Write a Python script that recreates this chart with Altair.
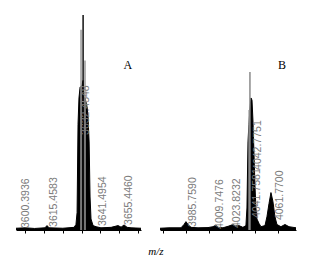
import altair as alt
import pandas as pd

# ---------------- Panel A data ----------------
a_mz = [3595.1, 3600.0, 3605.0, 3610.5, 3611.6, 3612.7, 3620.0, 3626.0, 3627.0, 3627.6,
        3628.1, 3628.6, 3629.2, 3629.7, 3630.2, 3630.8, 3631.3, 3631.8, 3632.4, 3632.9,
        3633.4, 3634.0, 3634.5, 3635.0, 3636.1, 3637.7, 3640.3, 3645.7, 3649.4, 3651.0,
        3652.6, 3654.2, 3656.3, 3661.6]
a_int = [0.8, 1.0, 0.7, 1.0, 2.0, 1.0, 0.8, 1.2, 2.5, 8,
         48, 60, 65, 65, 66, 68, 60, 60, 58, 56,
         52, 40, 15, 5, 2, 1.5, 1.0, 1.2, 2.0, 1.3,
         2.3, 1.2, 1.0, 0.8]
a_spike_mz = [3629.7, 3630.8, 3631.8]
a_spike_int = [91, 97.7, 77]
a_spike_col = ["#9a9a9a", "#111111", "#9a9a9a"]
a_label_mz = [3600.3936, 3615.4583, 3632.4548, 3641.4954, 3655.4460]
a_label_txt = ["3600.3936", "3615.4583", "3632.4548", "3641.4954", "3655.4460"]
a_label_y = [0.9, 1.4, 43.2, 1.8, 2.3]
a_domain = [3595.1, 3661.6]

# ---------------- Panel B data ----------------
b_mz = [3957.2, 3965.0, 3975.5, 3978.1, 3979.8, 3981.6, 3984.2, 3990.3, 3999.0, 4003.3,
        4005.9, 4008.0, 4012.0, 4017.2, 4020.7, 4023.0, 4025.9, 4029.4, 4032.0, 4032.9,
        4033.8, 4034.6, 4035.5, 4036.4, 4037.3, 4038.1, 4039.0, 4039.9, 4040.7, 4041.6,
        4043.4, 4045.1, 4048.6, 4050.3, 4052.1, 4053.8, 4055.5, 4057.3, 4059.0, 4062.5,
        4066.0, 4069.5, 4075.6]
b_int = [0.8, 1.0, 1.0, 2.5, 3.8, 2.5, 1.2, 1.0, 1.1, 1.5,
         2.2, 1.2, 1.0, 1.8, 2.5, 1.8, 2.0, 1.2, 2.0, 10,
         40, 48, 55, 60, 59, 50, 35, 20, 10, 5,
         3, 1.5, 2.0, 6, 12, 17, 13, 6, 2.5, 1.5,
         2.5, 1.5, 1.0]
b_spike_mz = [4034.8, 4035.5]
b_spike_int = [54.5, 71.8]
b_spike_col = ["#9a9a9a", "#8a8a8a"]
b_label_mz = [3985.7590, 4009.7476, 4023.8232, 4041.7581, 4042.7751, 4061.7700]
b_label_txt = ["3985.7590", "4009.7476", "4023.8232", "4041.7581", "4042.7751", "4061.7700"]
b_label_y = [1.4, 0.5, 0.9, 5.5, 27.3, 4.5]
b_domain = [3957.2, 4075.6]

letters = ["A", "B"]
letter_mz = [3654.6, 4063.5]
letter_y = [75, 75]


def panel(mz, inten, smz, sint, scol, lmz, ltxt, ly, domain, letter, lx, lyv, width):
    xs = alt.Scale(domain=domain, nice=False, zero=False)
    ys = alt.Scale(domain=[0, 98.6], nice=False)
    xaxis = alt.Axis(labels=False, title=None, grid=False, ticks=True, tickSize=3,
                     tickColor="#000", domainColor="#000", domainWidth=1.2, tickCount=6)
    prof = pd.DataFrame({"mz": mz, "I": inten})
    spk = pd.DataFrame({"mz": smz, "I": sint, "c": scol, "z": [0] * len(smz)})
    lab = pd.DataFrame({"mz": lmz, "t": ltxt, "y": ly})
    let = pd.DataFrame({"mz": [lx], "y": [lyv], "t": [letter]})

    area = alt.Chart(prof).mark_area(color="#000", opacity=1,
                                     line={"color": "#000", "strokeWidth": 1},
                                     interpolate="linear").encode(
        x=alt.X("mz:Q", scale=xs, axis=xaxis),
        y=alt.Y("I:Q", scale=ys, axis=None),
    )
    rules = alt.Chart(spk).mark_rule(strokeWidth=1.5).encode(
        x=alt.X("mz:Q", scale=xs),
        y=alt.Y("I:Q", scale=ys),
        y2="z:Q",
        color=alt.Color("c:N", scale=None, legend=None),
    )
    texts = alt.Chart(lab).mark_text(angle=270, align="left", baseline="middle",
                                     font="Liberation Sans", fontSize=10.5,
                                     color="#7a7a7a").encode(
        x=alt.X("mz:Q", scale=xs),
        y=alt.Y("y:Q", scale=ys),
        text="t:N",
    )
    lt = alt.Chart(let).mark_text(font="Liberation Serif", fontSize=12,
                                  color="#000").encode(
        x=alt.X("mz:Q", scale=xs),
        y=alt.Y("y:Q", scale=ys),
        text="t:N",
    )
    return alt.layer(area, rules, texts, lt).properties(width=width, height=217)


pa = panel(a_mz, a_int, a_spike_mz, a_spike_int, a_spike_col, a_label_mz, a_label_txt,
           a_label_y, a_domain, letters[0], letter_mz[0], letter_y[0], 125)
pb = panel(b_mz, b_int, b_spike_mz, b_spike_int, b_spike_col, b_label_mz, b_label_txt,
           b_label_y, b_domain, letters[1], letter_mz[1], letter_y[1], 136)

chart = alt.hconcat(pa, pb, spacing=15).properties(
    padding={"left": 6, "top": 5, "right": 5, "bottom": 0},
    title=alt.TitleParams("m/z", orient="bottom", anchor="middle", font="Liberation Serif",
                          fontStyle="italic", fontSize=11, fontWeight="normal",
                          color="#000", offset=12),
).configure(background="white").configure_view(stroke=None)

chart.save("out.html", embed_options={"renderer": "svg", "actions": False})
